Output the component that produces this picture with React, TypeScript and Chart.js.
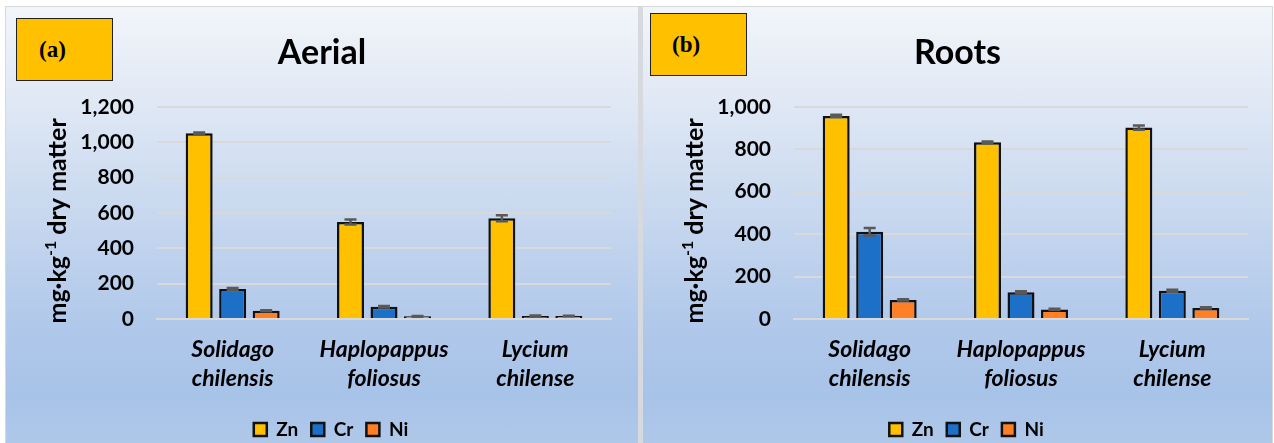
import React, { useEffect, useRef } from "react";
import { Chart, registerables } from "chart.js";

Chart.register(...registerables);

// ---------- data ----------
const categories: string[][] = [
  ["Solidago", "chilensis"],
  ["Haplopappus", "foliosus"],
  ["Lycium", "chilense"],
];
const seriesNames = ["Zn", "Cr", "Ni"];
const seriesColors = ["#FFC000", "#1C70C8", "#FF7F27"];

const aerialZn = [1050, 549, 570];
const aerialCr = [170, 69, 17];
const aerialNi = [47, 15, 17];
const aerialZnErr = [5, 14, 17];
const aerialCrErr = [5, 4, 3];
const aerialNiErr = [3, 2, 2];
const aerialMax = 1200;

const rootsZn = [957, 833, 902];
const rootsCr = [411, 126, 133];
const rootsNi = [90, 45, 52];
const rootsZnErr = [5, 4, 10];
const rootsCrErr = [18, 5, 5];
const rootsNiErr = [3, 3, 3];
const rootsMax = 1000;

const tickStep = 200;

const SANS = "Lato, 'Open Sans', 'DejaVu Sans', sans-serif";
const SERIF = "'Liberation Serif', 'DejaVu Serif', serif";

function makeErrorPlugin(errs: number[][]) {
  return {
    id: "errorBars",
    afterDatasetsDraw(chart: any) {
      const ctx = chart.ctx;
      const y = chart.scales.y;
      ctx.save();
      ctx.strokeStyle = "#595959";
      ctx.lineWidth = 2.5;
      chart.data.datasets.forEach((ds: any, i: number) => {
        const meta = chart.getDatasetMeta(i);
        meta.data.forEach((bar: any, j: number) => {
          const v = ds.data[j];
          const e = errs[i][j];
          const x = bar.x;
          const yT = y.getPixelForValue(v + e);
          const yB = y.getPixelForValue(v - e);
          ctx.beginPath();
          ctx.moveTo(x, yT);
          ctx.lineTo(x, yB);
          ctx.moveTo(x - 6, yT);
          ctx.lineTo(x + 6, yT);
          ctx.moveTo(x - 6, yB);
          ctx.lineTo(x + 6, yB);
          ctx.stroke();
        });
      });
      ctx.restore();
    },
  };
}

const yTitlePlugin = {
  id: "yTitleSup",
  afterDraw(chart: any) {
    const ctx = chart.ctx;
    const ca = chart.chartArea;
    const cx = ca.left - 99;
    const cy = (ca.top + ca.bottom) / 2 + 8;
    const big = `bold 25px ${SANS}`;
    const small = `bold 16px ${SANS}`;
    const p1 = "mg·kg";
    const p2 = "-1";
    const p3 = " dry matter";
    ctx.save();
    ctx.fillStyle = "#000";
    ctx.textBaseline = "middle";
    ctx.textAlign = "left";
    ctx.font = big;
    const w1 = ctx.measureText(p1).width;
    const w3 = ctx.measureText(p3).width;
    ctx.font = small;
    const w2 = ctx.measureText(p2).width;
    const W = w1 + w2 + w3;
    ctx.translate(cx, cy);
    ctx.rotate(-Math.PI / 2);
    let x = -W / 2;
    ctx.font = big;
    ctx.fillText(p1, x, 0);
    x += w1;
    ctx.font = small;
    ctx.fillText(p2, x, -7);
    x += w2;
    ctx.font = big;
    ctx.fillText(p3, x, 0);
    ctx.restore();
  },
};

const legendShiftPlugin = {
  id: "legendShift",
  afterLayout(chart: any) {
    const lg = chart.legend;
    if (lg) {
      lg.left += 9;
      lg.right += 9;
    }
  },
};

type PanelProps = {
  title: string;
  values: number[][];
  errs: number[][];
  max: number;
  width: number;
  height: number;
};

function PanelChart({ title, values, errs, max, width, height }: PanelProps) {
  const ref = useRef<HTMLCanvasElement>(null);
  useEffect(() => {
    const chart = new Chart(ref.current as HTMLCanvasElement, {
      type: "bar",
      data: {
        labels: categories as any,
        datasets: seriesNames.map((name, i) => ({
          label: name,
          data: values[i],
          backgroundColor: seriesColors[i],
          borderColor: "#111111",
          borderWidth: 2.5,
          barPercentage: 0.806,
          categoryPercentage: 0.664,
        })),
      },
      options: {
        responsive: false,
        animation: false,
        devicePixelRatio: 1,
        layout: { padding: 0 },
        plugins: {
          title: {
            display: true,
            text: title,
            color: "#000",
            font: { family: SANS, size: 34, weight: "bold" },
            padding: { top: 26, bottom: 33 },
          },
          legend: {
            position: "bottom",
            labels: {
              boxWidth: 13,
              boxHeight: 13,
              color: "#000",
              padding: 13,
              font: { family: SANS, size: 19, weight: "bold" },
            },
          },
          tooltip: { enabled: false },
        },
        scales: {
          x: {
            z: 1,
            grid: { display: false, drawTicks: false },
            border: { display: true, color: "#d9d9d9", width: 2 },
            ticks: {
              color: "#000",
              padding: 16,
              maxRotation: 0,
              autoSkip: false,
              font: { family: SANS, size: 23, weight: "bold", style: "italic", lineHeight: 1.26 },
            },
            afterFit: (s: any) => {
              s.height = 88;
            },
          },
          y: {
            min: 0,
            max,
            ticks: {
              stepSize: tickStep,
              color: "#000",
              padding: 23,
              font: { family: SANS, size: 21, weight: "bold" },
              callback: (v: any) => Number(v).toLocaleString("en-US"),
            },
            grid: { color: "#d9d9d9", lineWidth: 2, drawTicks: false },
            border: { display: false },
            afterFit: (s: any) => {
              s.width = 151;
            },
          },
          yR: {
            position: "right",
            display: true,
            grid: { display: false, drawTicks: false },
            border: { display: false },
            ticks: { display: false },
            afterFit: (s: any) => {
              s.width = width - 605;
            },
          },
        } as any,
      },
      plugins: [makeErrorPlugin(errs), yTitlePlugin, legendShiftPlugin],
    });
    return () => chart.destroy();
  }, []);
  return (
    <canvas
      ref={ref}
      width={width}
      height={height}
      style={{ position: "absolute", left: 0, top: 0, width, height }}
    />
  );
}

const panelBg =
  "linear-gradient(180deg, #f2f5fa 0%, #e1e9f5 20%, #c9d9ef 45%, #b0c8ea 72%, #a8c3e8 88%, #b0c9ea 100%)";

function LabelBox({ text, left, top, padLeft }: { text: string; left: number; top: number; padLeft: number }) {
  return (
    <div
      style={{
        position: "absolute",
        left,
        top,
        width: 97,
        height: 63,
        background: "#FFC000",
        border: "1.5px solid #222",
        boxSizing: "border-box",
        display: "flex",
        alignItems: "center",
        paddingLeft: padLeft,
        fontFamily: SERIF,
        fontWeight: "bold",
        fontSize: 23,
        color: "#000",
      }}
    >
      {text}
    </div>
  );
}

export default function App() {
  useEffect(() => {
    document.body.style.margin = "0";
  }, []);
  return (
    <div
      style={{
        position: "fixed",
        left: 0,
        top: 0,
        width: 1274,
        height: 443,
        overflow: "hidden",
        background: "#ffffff",
      }}
    >
      <div
        style={{
          position: "absolute",
          left: 5,
          top: 6,
          width: 1268,
          height: 440,
          background: "#d6d9de",
        }}
      />
      <div
        style={{
          position: "absolute",
          left: 6,
          top: 7,
          width: 632,
          height: 442,
          background: panelBg,
        }}
      >
        <PanelChart
          title="Aerial"
          values={[aerialZn, aerialCr, aerialNi]}
          errs={[aerialZnErr, aerialCrErr, aerialNiErr]}
          max={aerialMax}
          width={632}
          height={442}
        />
        <LabelBox text="(a)" left={10} top={11} padLeft={22} />
      </div>
      <div
        style={{
          position: "absolute",
          left: 643,
          top: 7,
          width: 629,
          height: 442,
          background: panelBg,
        }}
      >
        <PanelChart
          title="Roots"
          values={[rootsZn, rootsCr, rootsNi]}
          errs={[rootsZnErr, rootsCrErr, rootsNiErr]}
          max={rootsMax}
          width={629}
          height={442}
        />
        <LabelBox text="(b)" left={7} top={6} padLeft={21} />
      </div>
    </div>
  );
}
